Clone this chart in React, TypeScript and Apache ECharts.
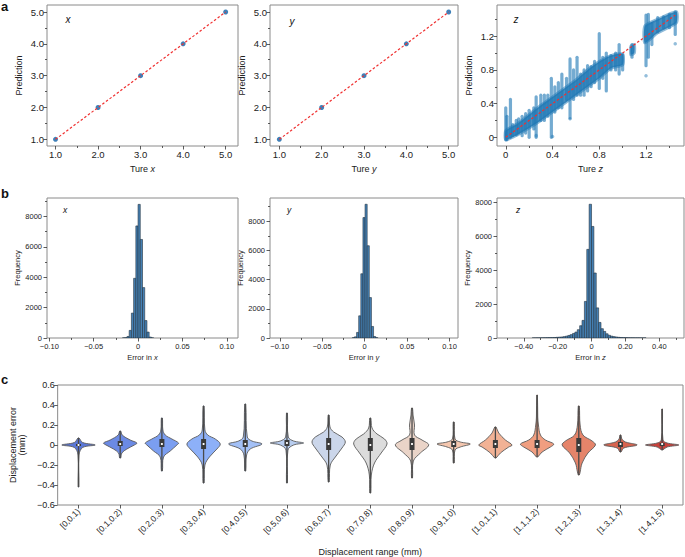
import React, { useEffect, useRef } from 'react';
import * as echarts from 'echarts';

const FONT = '"Liberation Sans", Arial, sans-serif';

// ---------- Panel a ----------
const trueValues = [1, 2, 3, 4, 5];
const predXValues = [1.0, 2.0, 3.0, 4.0, 5.0];
const predYValues = [1.0, 2.0, 3.0, 4.0, 5.0];
const refLineXY = [1, 5];
const refLineZ = [0, 1.45];

const zStripeX = [0.00, 0.01, 0.04, 0.06, 0.09, 0.11, 0.14, 0.17, 0.20, 0.24, 0.26, 0.30, 0.33, 0.36, 0.39, 0.42, 0.45, 0.48, 0.52, 0.55, 0.58, 0.61, 0.64, 0.67, 0.70, 0.73, 0.76, 0.80, 0.83, 0.86, 0.90, 0.94, 0.97, 1.00, 1.08, 1.20, 1.22, 1.25, 1.30, 1.35, 1.40, 1.45];
const zStripeLow = [-0.03, -0.03, 0.00, 0.02, 0.03, 0.05, 0.02, 0.05, 0.00, 0.10, 0.00, 0.20, 0.20, 0.25, 0.00, 0.30, 0.35, 0.35, 0.45, 0.23, 0.45, 0.50, 0.50, 0.50, 0.55, 0.60, 0.65, 0.58, 0.70, 0.55, 0.80, 0.80, 0.75, 0.80, 0.95, 0.85, 0.95, 1.10, 1.25, 1.30, 1.30, 1.22];
const zStripeHigh = [0.35, 0.25, 0.45, 0.15, 0.20, 0.22, 0.25, 0.28, 0.32, 0.35, 0.48, 0.50, 0.50, 0.50, 0.70, 0.60, 0.65, 0.75, 0.70, 0.93, 0.80, 0.95, 0.75, 0.80, 0.85, 0.84, 0.90, 1.23, 0.95, 1.00, 0.97, 1.00, 1.10, 0.98, 1.10, 1.45, 1.46, 1.35, 1.42, 1.43, 1.46, 1.49];
const zOutlierX = [1.20, 1.45, 0.55, 0.40, 0.26];
const zOutlierY = [0.73, 1.11, 0.22, 0.01, 0.02];

const zBandX = [[0, 0.1, 0.2, 0.3, 0.4, 0.5, 0.6, 0.7, 0.8, 0.9, 1.0], [1.07, 1.1], [1.19, 1.3, 1.46]];
const zBandLow = [[-0.03, 0.03, 0.11, 0.2, 0.3, 0.4, 0.5, 0.6, 0.7, 0.82, 0.86], [0.98, 1.0], [1.12, 1.24, 1.36]];
const zBandHigh = [[0.08, 0.16, 0.27, 0.38, 0.48, 0.58, 0.68, 0.8, 0.9, 0.97, 0.99], [1.08, 1.1], [1.32, 1.4, 1.49]];

// ---------- Panel b ----------
const histXBinWidth = 0.0025;
const histXLeft = [-0.0175, -0.015, -0.0125, -0.01, -0.0075, -0.005, -0.0025, 0, 0.0025, 0.005, 0.0075, 0.01, 0.0125, 0.015];
const histXCount = [10, 20, 100, 500, 1640, 3930, 7380, 8800, 6490, 3320, 1150, 390, 60, 10];

const histYBinWidth = 0.0025;
const histYLeft = [-0.0145, -0.012, -0.0095, -0.007, -0.0045, -0.002, 0.0005, 0.003, 0.0055, 0.008, 0.0105, 0.013];
const histYCount = [20, 80, 380, 1520, 4400, 8250, 9160, 6320, 2770, 790, 100, 20];

const histZBinWidth = 0.014;
const histZLeft = [-0.35, -0.336, -0.322, -0.308, -0.294, -0.28, -0.266, -0.252, -0.238, -0.224, -0.21, -0.196, -0.182, -0.168, -0.154, -0.14, -0.126, -0.112, -0.098, -0.084, -0.07, -0.056, -0.042, -0.028, -0.014, 0, 0.014, 0.028, 0.042, 0.056, 0.07, 0.084, 0.098, 0.112, 0.126, 0.14, 0.154, 0.168, 0.182, 0.196, 0.21, 0.224, 0.238, 0.252, 0.266, 0.28, 0.294, 0.308];
const histZCount = [5, 6, 8, 10, 12, 15, 20, 20, 25, 30, 40, 50, 60, 80, 110, 150, 200, 270, 350, 490, 725, 1040, 2160, 5235, 7900, 6590, 3840, 1780, 920, 550, 390, 250, 160, 110, 80, 60, 40, 30, 25, 20, 15, 12, 10, 8, 8, 6, 5, 5];

// ---------- Panel c ----------
const vioCategories = ['[0,0.1)', '[0.1,0.2)', '[0.2,0.3)', '[0.3,0.4)', '[0.4,0.5)', '[0.5,0.6)', '[0.6,0.7)', '[0.7,0.8)', '[0.8,0.9)', '[0.9,1.0)', '[1.0,1.1)', '[1.1,1.2)', '[1.2,1.3)', '[1.3,1.4)', '[1.4,1.5)'];
const vioColors = ['#5a77d6', '#6b8ae4', '#7b9ef0', '#8db0f8', '#a3c0f6', '#b8cdef', '#cbd6ea', '#dcdcdc', '#ead4c8', '#f4c6ae', '#f2b295', '#f09e80', '#e5846a', '#d8644f', '#c9413b'];
const vioMin = [-0.42, -0.13, -0.26, -0.38, -0.26, -0.38, -0.37, -0.48, -0.33, -0.18, -0.13, -0.12, -0.30, -0.07, -0.05];
const vioMax = [0.07, 0.14, 0.27, 0.39, 0.41, 0.32, 0.30, 0.27, 0.37, 0.23, 0.18, 0.50, 0.39, 0.10, 0.36];
const vioQ1 = [-0.01, -0.01, -0.02, -0.04, -0.02, -0.01, -0.05, -0.06, -0.05, -0.02, -0.03, -0.03, -0.07, -0.02, -0.01];
const vioQ3 = [0.01, 0.04, 0.06, 0.06, 0.05, 0.05, 0.07, 0.07, 0.07, 0.04, 0.05, 0.05, 0.07, 0.03, 0.02];
const vioMedian = [0.0, 0.01, 0.01, 0.01, 0.01, 0.02, 0.01, 0.0, 0.01, 0.01, 0.01, 0.01, 0.0, 0.01, 0.01];
const vioProfiles: number[][][] = [
  [[-0.42, 0.02], [-0.1, 0.03], [-0.025, 0.25], [0, 1], [0.025, 0.25], [0.07, 0.03]],
  [[-0.13, 0.03], [-0.08, 0.1], [-0.04, 0.4], [0, 0.85], [0.02, 1], [0.05, 0.6], [0.1, 0.12], [0.14, 0.03]],
  [[-0.26, 0.03], [-0.12, 0.1], [-0.06, 0.5], [0, 0.9], [0.02, 1], [0.06, 0.6], [0.1, 0.2], [0.15, 0.06], [0.27, 0.03]],
  [[-0.38, 0.03], [-0.2, 0.08], [-0.12, 0.35], [-0.04, 0.8], [0.01, 1], [0.06, 0.7], [0.1, 0.25], [0.15, 0.08], [0.39, 0.03]],
  [[-0.26, 0.03], [-0.1, 0.08], [-0.04, 0.3], [0.01, 1], [0.04, 0.4], [0.08, 0.12], [0.41, 0.03]],
  [[-0.38, 0.03], [-0.05, 0.06], [0, 0.4], [0.02, 1], [0.04, 0.4], [0.08, 0.08], [0.32, 0.03]],
  [[-0.37, 0.03], [-0.2, 0.1], [-0.12, 0.4], [-0.03, 0.8], [0.03, 1], [0.08, 0.8], [0.13, 0.3], [0.18, 0.08], [0.3, 0.03]],
  [[-0.48, 0.03], [-0.3, 0.06], [-0.18, 0.25], [-0.08, 0.65], [0.01, 1], [0.06, 0.85], [0.11, 0.4], [0.17, 0.1], [0.27, 0.03]],
  [[-0.33, 0.03], [-0.16, 0.08], [-0.08, 0.5], [0, 1], [0.05, 0.6], [0.1, 0.15], [0.2, 0.15], [0.3, 0.06], [0.37, 0.03]],
  [[-0.18, 0.03], [-0.05, 0.08], [-0.02, 0.4], [0.01, 1], [0.03, 0.4], [0.06, 0.08], [0.23, 0.03]],
  [[-0.13, 0.04], [-0.08, 0.3], [-0.02, 0.8], [0, 1], [0.05, 0.6], [0.12, 0.2], [0.18, 0.04]],
  [[-0.12, 0.04], [-0.07, 0.3], [-0.02, 0.8], [0.01, 1], [0.05, 0.5], [0.1, 0.2], [0.2, 0.08], [0.28, 0.04], [0.5, 0.02]],
  [[-0.3, 0.03], [-0.27, 0.08], [-0.18, 0.2], [-0.08, 0.55], [0, 1], [0.04, 0.8], [0.1, 0.25], [0.2, 0.08], [0.39, 0.03]],
  [[-0.07, 0.03], [-0.03, 0.2], [0, 1], [0.03, 0.3], [0.06, 0.08], [0.1, 0.03]],
  [[-0.05, 0.03], [-0.02, 0.3], [0, 1], [0.02, 0.3], [0.05, 0.05], [0.36, 0.02]],
];

// tick positions
const ticksA = [1, 2, 3, 4, 5];
const minorA = [1.5, 2.5, 3.5, 4.5];
const ticksZ = [0, 0.4, 0.8, 1.2];
const minorZ = [0.2, 0.6, 1.0, 1.4];
const ticksBxy = [-0.1, -0.05, 0, 0.05, 0.1];
const minorBxy = [-0.075, -0.025, 0.025, 0.075];
const ticksBz = [-0.4, -0.2, 0, 0.2, 0.4];
const minorBz = [-0.5, -0.3, -0.1, 0.1, 0.3, 0.5];
const ticksCount = [0, 2000, 4000, 6000, 8000];
const minorCount = [1000, 3000, 5000, 7000, 9000];
const ticksC = [-0.6, -0.4, -0.2, 0, 0.2, 0.4, 0.6];

const minus = (v: number, d: number) => (Math.abs(v) < 1e-9 ? '0' : (v < 0 ? '\u2212' : '') + Math.abs(v).toFixed(d));

const TXT = '#222';
const TICK = { color: '#333', width: 0.8 };

function buildOption() {
  const grids = [
    { left: 47, top: 5, width: 191, height: 141 },
    { left: 270, top: 5, width: 188, height: 141 },
    { left: 497, top: 5, width: 187, height: 141 },
    { left: 47, top: 198, width: 191, height: 140 },
    { left: 270, top: 198, width: 188, height: 140 },
    { left: 497, top: 198, width: 187, height: 140 },
    { left: 48, top: 385, width: 635, height: 120 },
  ].map((g) => ({ ...g, show: true, borderColor: '#8a8a8a', borderWidth: 1, backgroundColor: 'transparent' }));

  const xAxis: any[] = [];
  const yAxis: any[] = [];

  function addAxis(list: any[], pos: string, c: any): number {
    const idx = list.length;
    list.push({
      type: 'value', gridIndex: c.grid, min: c.min, max: c.max, position: pos,
      axisLine: { show: false, onZero: false },
      axisTick: { show: true, customValues: c.major, length: 3.5, lineStyle: TICK },
      axisLabel: { show: true, customValues: c.major, formatter: c.fmt, fontSize: c.fs, color: TXT, fontFamily: FONT, margin: c.margin ?? 3 },
      splitLine: { show: false },
      name: c.name, nameLocation: 'middle', nameGap: c.nameGap,
      nameTextStyle: { fontSize: c.nameFs, fontFamily: FONT, color: TXT, rich: c.rich },
    });
    if (c.minor) {
      list.push({
        type: 'value', gridIndex: c.grid, min: c.min, max: c.max, position: pos,
        axisLine: { show: false, onZero: false },
        axisTick: { show: true, customValues: c.minor, length: 2, lineStyle: TICK },
        axisLabel: { show: false }, splitLine: { show: false },
      });
    }
    return idx;
  }

  const richName = (fs: number) => ({
    t: { fontSize: fs, fontFamily: FONT, color: TXT },
    i: { fontSize: fs, fontFamily: FONT, color: TXT, fontStyle: 'italic' },
  });

  const fmtA = (v: number) => v.toFixed(1);
  const fmtZ = (v: number) => (v === 0 ? '0' : v.toFixed(1));

  // panel a axes
  const ax = [
    { g: 0, xmin: 0.8, xmax: 5.29, ymin: 0.79, ymax: 5.22, v: 'x' },
    { g: 1, xmin: 0.78, xmax: 5.22, ymin: 0.79, ymax: 5.22, v: 'y' },
  ].map((a) => ({
    x: addAxis(xAxis, 'bottom', { grid: a.g, min: a.xmin, max: a.xmax, major: ticksA, minor: minorA, fmt: fmtA, fs: 9.5, name: `{t|Ture }{i|${a.v}}`, nameGap: 18, nameFs: 9, rich: richName(9) }),
    y: addAxis(yAxis, 'left', { grid: a.g, min: a.ymin, max: a.ymax, major: ticksA, minor: minorA, fmt: fmtA, fs: 9.5, name: 'Prediction', nameGap: 24, nameFs: 9 }),
  }));
  const azX = addAxis(xAxis, 'bottom', { grid: 2, min: -0.075, max: 1.525, major: ticksZ, minor: minorZ, fmt: fmtZ, fs: 9.5, name: '{t|Ture }{i|z}', nameGap: 18, nameFs: 9, rich: richName(9) });
  const azY = addAxis(yAxis, 'left', { grid: 2, min: -0.103, max: 1.57, major: ticksZ, minor: minorZ, fmt: fmtZ, fs: 9.5, name: 'Prediction', nameGap: 24, nameFs: 9 });

  // panel b axes
  const fmtCount = (v: number) => String(Math.round(v));
  const bx = [
    { g: 3, xmin: -0.1026, xmax: 0.1126, ymax: 9220, v: 'x', ng: 24 },
    { g: 4, xmin: -0.1115, xmax: 0.110, ymax: 9590, v: 'y', ng: 24.5 },
  ].map((b) => ({
    x: addAxis(xAxis, 'bottom', { grid: b.g, min: b.xmin, max: b.xmax, major: ticksBxy, minor: minorBxy, fmt: (v: number) => minus(v, 2), fs: 7.5, margin: 4, name: `{t|Error in }{i|${b.v}}`, nameGap: 15, nameFs: 7.5, rich: richName(7.5) }),
    y: addAxis(yAxis, 'left', { grid: b.g, min: 0, max: b.ymax, major: ticksCount, minor: minorCount, fmt: fmtCount, fs: 7.5, margin: 5, name: 'Frequency', nameGap: b.ng, nameFs: 7.5 }),
  }));
  const bzX = addAxis(xAxis, 'bottom', { grid: 5, min: -0.558, max: 0.546, major: ticksBz, minor: minorBz, fmt: (v: number) => minus(v, 2), fs: 7.5, margin: 4, name: '{t|Error in }{i|z}', nameGap: 15, nameFs: 7.5, rich: richName(7.5) });
  const bzY = addAxis(yAxis, 'left', { grid: 5, min: 0, max: 8270, major: ticksCount, minor: minorCount, fmt: fmtCount, fs: 7.5, margin: 5, name: 'Frequency', nameGap: 25, nameFs: 7.5 });

  // panel c axes
  const cX = xAxis.length;
  xAxis.push({
    type: 'category', gridIndex: 6, data: vioCategories, boundaryGap: true, position: 'bottom',
    axisLine: { show: false, onZero: false },
    axisTick: { show: true, alignWithLabel: true, length: 3.5, lineStyle: TICK },
    axisLabel: { interval: 0, rotate: 45, fontSize: 8.5, color: TXT, fontFamily: FONT, margin: 5 },
    splitLine: { show: false },
    name: 'Displacement range (mm)', nameLocation: 'middle', nameGap: 42,
    nameTextStyle: { fontSize: 9, fontFamily: FONT, color: TXT },
  });
  const cY = addAxis(yAxis, 'left', { grid: 6, min: -0.6, max: 0.6, major: ticksC, minor: null, fmt: (v: number) => minus(v, 1), fs: 9, name: 'Displacement error\n(mm)', nameGap: 22, nameFs: 9 });

  const series: any[] = [];
  const BLUE = '#2a72b0';
  const RED = '#f03030';

  // a1, a2
  [predXValues, predYValues].forEach((pred, k) => {
    series.push({
      type: 'scatter', xAxisIndex: ax[k].x, yAxisIndex: ax[k].y,
      data: trueValues.map((t, i) => [t, pred[i]]), symbolSize: 5,
      itemStyle: { color: BLUE, opacity: 0.9 }, z: 3,
    });
    series.push({
      type: 'line', xAxisIndex: ax[k].x, yAxisIndex: ax[k].y,
      data: [[refLineXY[0], refLineXY[0]], [refLineXY[1], refLineXY[1]]],
      symbol: 'none', lineStyle: { color: RED, width: 1.2, type: [2.5, 2] }, z: 4,
    });
  });

  // a3 band
  series.push({
    type: 'custom', xAxisIndex: azX, yAxisIndex: azY, clip: true, z: 2,
    data: zBandX.map((xs, i) => [xs[0], zBandLow[i][0], i]),
    renderItem: (params: any, api: any) => {
      const i = params.dataIndex;
      const xs = zBandX[i];
      const upper = xs.map((x, j) => api.coord([x, zBandHigh[i][j]]));
      const lower = xs.map((x, j) => api.coord([x, zBandLow[i][j]])).reverse();
      return { type: 'polygon', shape: { points: upper.concat(lower), smooth: 0.2 }, style: { fill: 'rgba(31,119,180,0.82)', stroke: 'rgba(31,119,180,0.5)', lineWidth: 3 } };
    },
  });
  // a3 stripes
  series.push({
    type: 'custom', xAxisIndex: azX, yAxisIndex: azY, clip: true, z: 2,
    data: zStripeX.map((x, i) => [x, zStripeLow[i], zStripeHigh[i]]),
    renderItem: (params: any, api: any) => {
      const p0 = api.coord([api.value(0), api.value(1)]);
      const p1 = api.coord([api.value(0), api.value(2)]);
      return { type: 'line', shape: { x1: p0[0], y1: p0[1], x2: p1[0], y2: p1[1] }, style: { stroke: 'rgba(31,119,180,0.62)', lineWidth: 3.2, lineCap: 'round' } };
    },
  });
  series.push({
    type: 'scatter', xAxisIndex: azX, yAxisIndex: azY, z: 2,
    data: zOutlierX.map((x, i) => [x, zOutlierY[i]]), symbolSize: 3.5,
    itemStyle: { color: 'rgba(31,119,180,0.6)' },
  });
  series.push({
    type: 'line', xAxisIndex: azX, yAxisIndex: azY,
    data: [[refLineZ[0], refLineZ[0]], [refLineZ[1], refLineZ[1]]],
    symbol: 'none', lineStyle: { color: RED, width: 1.2, type: [2.5, 2] }, z: 4,
  });

  // panel b histograms
  const histSeries = (xi: number, yi: number, left: number[], counts: number[], w: number) => ({
    type: 'custom', xAxisIndex: xi, yAxisIndex: yi, clip: true,
    data: left.map((l, i) => [l, l + w, counts[i]]),
    renderItem: (params: any, api: any) => {
      const p0 = api.coord([api.value(0), api.value(2)]);
      const p1 = api.coord([api.value(1), 0]);
      return { type: 'rect', shape: { x: p0[0], y: p0[1], width: p1[0] - p0[0], height: p1[1] - p0[1] }, style: { fill: '#4580b4', stroke: '#24323f', lineWidth: 0.6 } };
    },
  });
  series.push(histSeries(bx[0].x, bx[0].y, histXLeft, histXCount, histXBinWidth));
  series.push(histSeries(bx[1].x, bx[1].y, histYLeft, histYCount, histYBinWidth));
  series.push(histSeries(bzX, bzY, histZLeft, histZCount, histZBinWidth));

  // panel c violins
  series.push({
    type: 'custom', xAxisIndex: cX, yAxisIndex: cY, clip: false,
    data: vioCategories.map((_, i) => [i, vioMedian[i]]),
    renderItem: (params: any, api: any) => {
      const i = params.dataIndex;
      const cx = api.coord([i, 0])[0];
      const bw = api.size([1, 0])[0];
      const hw = bw * 0.4;
      const prof = vioProfiles[i];
      const right = prof.map(([y, w]) => [cx + w * hw, api.coord([i, y])[1]]);
      const left = prof.slice().reverse().map(([y, w]) => [cx - w * hw, api.coord([i, y])[1]]);
      const yMin = api.coord([i, vioMin[i]])[1];
      const yMax = api.coord([i, vioMax[i]])[1];
      const yQ1 = api.coord([i, vioQ1[i]])[1];
      const yQ3 = api.coord([i, vioQ3[i]])[1];
      const yMed = api.coord([i, vioMedian[i]])[1];
      return {
        type: 'group',
        children: [
          { type: 'polygon', shape: { points: right.concat(left), smooth: 0.35 }, style: { fill: vioColors[i], stroke: '#5a5a5a', lineWidth: 0.9 } },
          { type: 'line', shape: { x1: cx, y1: yMin, x2: cx, y2: yMax }, style: { stroke: '#4a4a4a', lineWidth: 1.3 } },
          { type: 'rect', shape: { x: cx - 2.5, y: yQ3, width: 5, height: yQ1 - yQ3 }, style: { fill: '#3a3a3a' } },
          { type: 'circle', shape: { cx, cy: yMed, r: 1.1 }, style: { fill: '#ffffff' } },
        ],
      };
    },
  });

  const label = (text: string, x: number, y: number, size: number, italic: boolean, bold = false) => ({
    type: 'text', x, y, z: 100,
    style: {
      text, fill: '#111', fontFamily: FONT, fontSize: size,
      fontStyle: italic ? 'italic' : 'normal', fontWeight: bold ? 'bold' : 'normal',
      textAlign: bold ? 'left' : 'center', textVerticalAlign: bold ? 'top' : 'middle',
    },
  });

  const graphic = [
    label('a', 1, 0, 13, false, true),
    label('b', 1, 187, 13, false, true),
    label('c', 1, 373, 13, false, true),
    label('x', 68, 19, 10, true),
    label('y', 292, 21, 10, true),
    label('z', 516, 19, 10, true),
    label('x', 65, 210, 8.5, true),
    label('y', 289, 210, 8.5, true),
    label('z', 518, 210, 8.5, true),
  ];

  return { animation: false, grid: grids, xAxis, yAxis, series, graphic, textStyle: { fontFamily: FONT } };
}

export default function App() {
  const ref = useRef<HTMLDivElement>(null);
  useEffect(() => {
    if (!ref.current) return;
    const chart = echarts.init(ref.current, undefined, { renderer: 'svg' });
    chart.setOption(buildOption() as any);
    return () => chart.dispose();
  }, []);
  return <div ref={ref} style={{ position: 'absolute', left: 0, top: 0, width: 685, height: 557, background: '#fff' }} />;
}
